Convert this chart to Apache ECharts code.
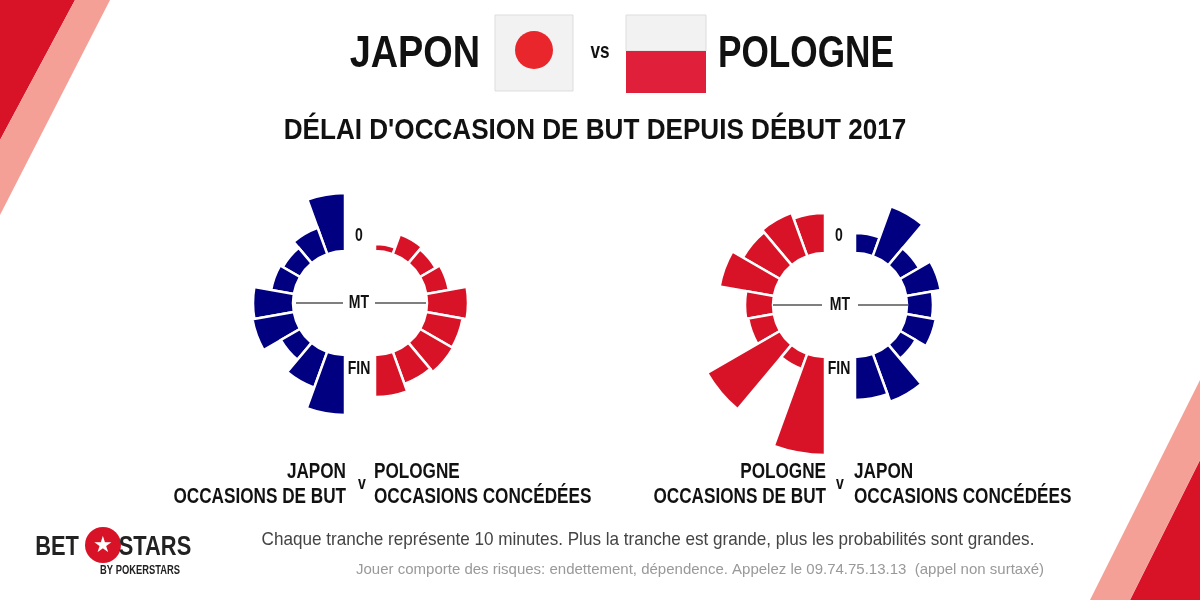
<!DOCTYPE html>
<html>
<head>
<meta charset="utf-8">
<script src="https://cdn.jsdelivr.net/npm/echarts@6/dist/echarts.min.js"></script>
<style>
  html, body { margin: 0; padding: 0; background: #fff; }
  #chart { width: 1200px; height: 600px; }
</style>
</head>
<body>
<div id="chart"></div>
<script>
// 9 tranches de 10 minutes par moitié, longueur de barre (px au-delà du trou)
const slots = ['0', '10', '20', '30', '40', '50', '60', '70', '80']
const japonButs = [58, 28, 20, 23, 40, 42, 22, 38, 60]
const pologneConcedees = [7, 21, 18, 23, 41, 37, 38, 34, 42]
const pologneButs = [40, 46, 43, 55, 28, 26, 84, 16, 98]
const japonConcedees = [20, 53, 22, 35, 26, 30, 18, 51, 43]

const BLUE = '#000080'
const RED = '#d81327'
const FONT = '"Liberation Sans", Arial, sans-serif'

const chart = echarts.init(document.getElementById('chart'))

function pad(arr) {
  return arr.concat(new Array(18 - arr.length).fill('-'))
}

const centers = [[345, 303], [375, 303], [825, 305], [855, 305]]
const clockwise = [false, true, false, true]
const halves = [japonButs, pologneConcedees, pologneButs, japonConcedees]
const colors = [BLUE, RED, RED, BLUE]
const cats = pad(slots).map((d, i) => 'c' + i)

const polar = centers.map(c => ({ center: c, radius: [52, 202] }))
const angleAxis = centers.map((c, i) => ({
  polarIndex: i,
  type: 'category',
  data: cats,
  startAngle: 90,
  clockwise: clockwise[i],
  axisLine: { show: false },
  axisTick: { show: false },
  axisLabel: { show: false },
  splitLine: { show: false }
}))
const radiusAxis = centers.map((c, i) => ({
  polarIndex: i,
  min: 0,
  max: 150,
  axisLine: { show: false },
  axisTick: { show: false },
  axisLabel: { show: false },
  splitLine: { show: false }
}))
const series = halves.map((d, i) => ({
  type: 'bar',
  coordinateSystem: 'polar',
  polarIndex: i,
  data: pad(d),
  barCategoryGap: '0%',
  itemStyle: { color: colors[i], borderColor: '#fff', borderWidth: 2.5 },
  silent: true
}))

function txt(x, y, text, size, align, color, weight, sx) {
  return {
    type: 'text', x: x, y: y, z: 10, scaleX: sx || 0.78,
    style: {
      text: text, fontSize: size, fontFamily: FONT, fontWeight: weight || 'bold',
      fill: color || '#111', align: align || 'center', verticalAlign: 'middle'
    }
  }
}
function hline(x1, x2, y) {
  return { type: 'line', z: 10, shape: { x1: x1, y1: y, x2: x2, y2: y }, style: { stroke: '#000', lineWidth: 1.2 } }
}

const graphic = [
  // coins rouges
  { type: 'polygon', shape: { points: [[0, 0], [75, 0], [0, 140]] }, style: { fill: RED } },
  { type: 'polygon', shape: { points: [[75, 0], [110, 0], [0, 215], [0, 140]] }, style: { fill: '#f4a096' } },
  { type: 'polygon', shape: { points: [[1200, 460], [1200, 600], [1130, 600]] }, style: { fill: RED } },
  { type: 'polygon', shape: { points: [[1200, 380], [1200, 460], [1130, 600], [1090, 600]] }, style: { fill: '#f4a096' } },
  // drapeaux
  { type: 'rect', shape: { x: 495, y: 15, width: 78, height: 76 }, style: { fill: '#f2f2f2', stroke: '#ddd' } },
  { type: 'circle', shape: { cx: 534, cy: 50, r: 19 }, style: { fill: '#e8262b' } },
  { type: 'rect', shape: { x: 626, y: 15, width: 80, height: 36 }, style: { fill: '#f2f2f2', stroke: '#ddd' } },
  { type: 'rect', shape: { x: 626, y: 51, width: 80, height: 42 }, style: { fill: '#e0203a' } },
  txt(480, 55, 'JAPON', 44, 'right', '#111', 'bold', 0.86),
  txt(600, 52, 'vs', 22),
  txt(718, 55, 'POLOGNE', 44, 'left', '#111', 'bold', 0.8),
  txt(595, 131, "DÉLAI D'OCCASION DE BUT DEPUIS DÉBUT 2017", 30, 'center', '#111', 'bold', 0.87),
  // repères graphique gauche
  txt(359, 236, '0', 18), txt(359, 303, 'MT', 18), txt(359, 369, 'FIN', 18),
  hline(296, 343, 303), hline(375, 426, 303),
  // repères graphique droit
  txt(839, 236, '0', 18), txt(840, 305, 'MT', 18), txt(839, 369, 'FIN', 18),
  hline(773, 822, 305), hline(858, 908, 305),
  // légendes
  txt(346, 472, 'JAPON', 22, 'right'), txt(346, 497, 'OCCASIONS DE BUT', 22, 'right'),
  txt(362, 484, 'v', 18), txt(374, 472, 'POLOGNE', 22, 'left'), txt(374, 497, 'OCCASIONS CONCÉDÉES', 22, 'left'),
  txt(826, 472, 'POLOGNE', 22, 'right'), txt(826, 497, 'OCCASIONS DE BUT', 22, 'right'),
  txt(840, 484, 'v', 18), txt(854, 472, 'JAPON', 22, 'left'), txt(854, 497, 'OCCASIONS CONCÉDÉES', 22, 'left'),
  // pied
  txt(648, 540, 'Chaque tranche représente 10 minutes. Plus la tranche est grande, plus les probabilités sont grandes.', 19, 'center', '#444', 'normal', 0.9),
  txt(700, 570, 'Jouer comporte des risques: endettement, dépendence. Appelez le 09.74.75.13.13  (appel non surtaxé)', 15, 'center', '#999', 'normal', 1.0),
  // logo
  txt(57, 547, 'BET', 28, 'center', '#222'),
  { type: 'circle', z: 10, shape: { cx: 103, cy: 545, r: 18 }, style: { fill: RED } },
  txt(103, 546, '★', 22, 'center', '#fff', 'normal', 1),
  txt(155, 547, 'STARS', 28, 'center', '#222'),
  txt(140, 571, 'BY POKERSTARS', 12, 'center', '#222')
]

chart.setOption({
  animation: false,
  backgroundColor: '#fff',
  polar: polar,
  angleAxis: angleAxis,
  radiusAxis: radiusAxis,
  series: series,
  graphic: graphic
})
</script>
</body>
</html>
